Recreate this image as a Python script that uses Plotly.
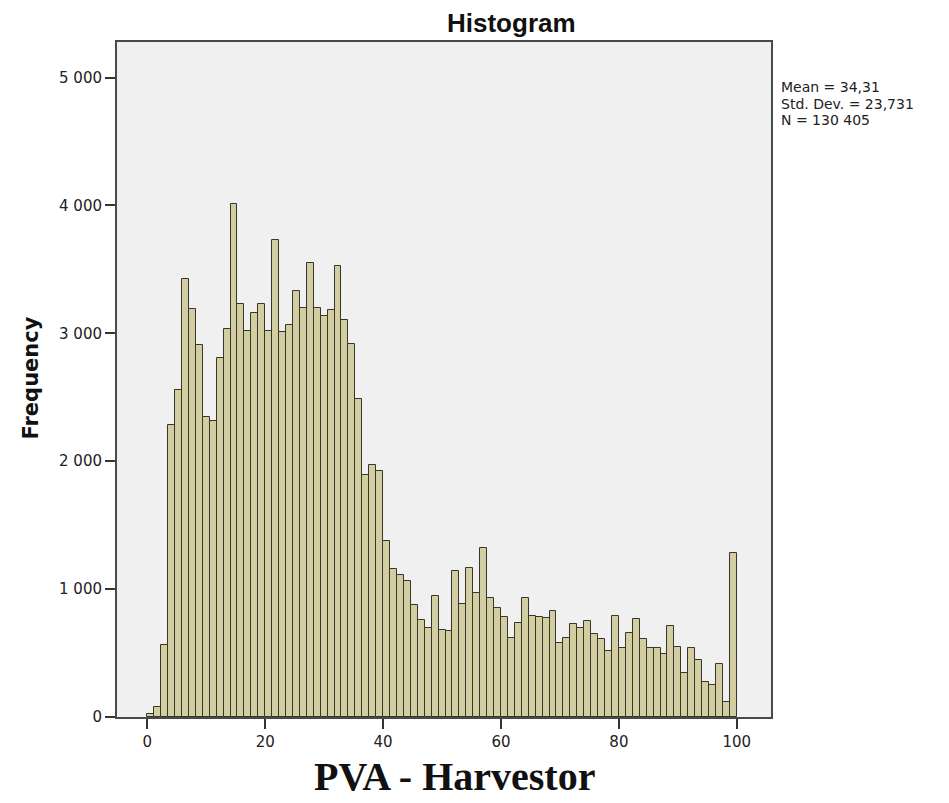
import numpy as np
import plotly.graph_objects as go

# Histogram counts (85 equal-width bins spanning 0..100)
counts = [20, 75, 560, 2285, 2555, 3423, 3188, 2905, 2345, 2318,
          2811, 3032, 4010, 3229, 3018, 3161, 3229, 3021, 3733, 3008,
          3067, 3331, 3202, 3547, 3202, 3134, 3180, 3525, 3107, 2913,
          2487, 1895, 1967, 1922, 1374, 1159, 1109, 1062, 872, 758,
          698, 950, 680, 672, 1141, 880, 1167, 966, 1318, 932,
          849, 784, 620, 737, 927, 789, 784, 771, 828, 581,
          620, 724, 698, 750, 646, 607, 516, 789, 542, 659,
          763, 612, 542, 542, 495, 711, 547, 346, 536, 443,
          273, 247, 417, 117, 1284]
bin_start = 0.0
bin_end = 100.0

x_ticks = [0, 20, 40, 60, 80, 100]
y_ticks = [0, 1000, 2000, 3000, 4000, 5000]
y_tick_labels = ["0", "1 000", "2 000", "3 000", "4 000", "5 000"]

stats_lines = ["Mean = 34,31", "Std. Dev. = 23,731", "N = 130 405"]

n_bins = len(counts)
edges = np.linspace(bin_start, bin_end, n_bins + 1)
centers = (edges[:-1] + edges[1:]) / 2
width = edges[1] - edges[0]

W, H = 949, 803
L, R, T, B = 117, 771, 42, 717  # plot area in pixels


def px_x(p):
    return (p - L) / (R - L)


def px_y(p):
    return (B - p) / (B - T)


fig = go.Figure()
fig.add_trace(go.Bar(
    x=centers, y=counts, width=width,
    marker=dict(color="#D3CEA1", line=dict(color="#38352A", width=1)),
    hoverinfo="x+y",
))

tick_font = dict(family="DejaVu Sans, sans-serif", size=15, color="#222222")

fig.update_layout(
    width=W, height=H, autosize=False,
    margin=dict(l=L, r=W - R, t=T, b=H - B),
    paper_bgcolor="white",
    plot_bgcolor="#F0F0F0",
    showlegend=False,
    bargap=0,
    font=dict(family="DejaVu Sans, sans-serif", color="#222222", size=15),
    xaxis=dict(
        range=[-5.14, 105.8], tickvals=x_ticks,
        ticks="outside", ticklen=10, tickwidth=2, tickcolor="#333333",
        showgrid=False, zeroline=False,
        showline=True, linecolor="#4A4A4A", linewidth=2, mirror=True,
        tickfont=tick_font,
    ),
    yaxis=dict(
        range=[0, 5278], tickvals=y_ticks, ticktext=y_tick_labels,
        ticks="outside", ticklen=10, tickwidth=2, tickcolor="#333333",
        showgrid=False, zeroline=False,
        showline=True, linecolor="#4A4A4A", linewidth=2, mirror=True,
        tickfont=tick_font,
    ),
)

# Chart title
fig.add_annotation(
    text="<b>Histogram</b>", xref="paper", yref="paper",
    x=px_x(511), y=1, yanchor="bottom", yshift=2,
    showarrow=False,
    font=dict(family="Liberation Sans, Arial, sans-serif", size=26, color="#111111"),
)
# Y axis title
fig.add_annotation(
    text="<b>Frequency</b>", xref="paper", yref="paper",
    x=px_x(31), y=px_y(378.5), xanchor="center", yanchor="middle",
    textangle=-90, showarrow=False,
    font=dict(family="DejaVu Sans, sans-serif", size=21, color="#111111"),
)
# X axis title
fig.add_annotation(
    text="<b>PVA - Harvestor</b>", xref="paper", yref="paper",
    x=px_x(454), y=px_y(777), xanchor="center", yanchor="middle",
    showarrow=False,
    font=dict(family="Liberation Serif, Times New Roman, serif", size=40, color="#111111"),
)
# Summary statistics
for i, line in enumerate(stats_lines):
    fig.add_annotation(
        text=line, xref="paper", yref="paper",
        x=px_x(779), xanchor="left", y=px_y(87 + 16.5 * i), yanchor="middle",
        align="left", showarrow=False,
        font=dict(family="DejaVu Sans, sans-serif", size=14, color="#222222"),
    )

fig.write_html("out.html")
